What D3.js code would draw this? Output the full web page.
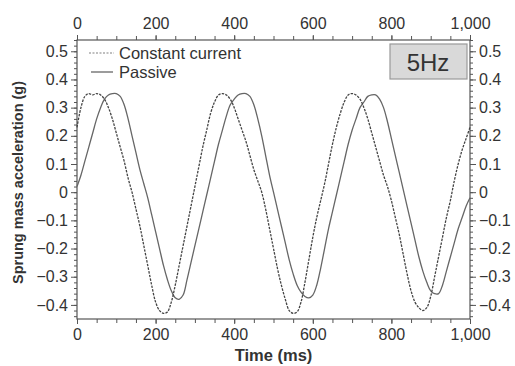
<!DOCTYPE html>
<html>
<head>
<meta charset="utf-8">
<script src="https://cdn.jsdelivr.net/npm/d3@7"></script>
<style>
  body { margin: 0; background: #fff; }
  text { font-family: "Liberation Sans", Arial, sans-serif; fill: #333; }
</style>
</head>
<body>
<script>
// time samples (ms)
var timeMs = d3.range(0, 1001, 10);

var constantCurrent = [
  0.23, 0.30, 0.34, 0.35, 0.345, 0.35, 0.345, 0.33, 0.30, 0.26,
  0.21, 0.16, 0.11, 0.05, 0.0, -0.06, -0.12, -0.19, -0.26, -0.33,
  -0.39, -0.42, -0.43, -0.425, -0.39, -0.33, -0.26, -0.19, -0.12, -0.05,
  0.02, 0.09, 0.16, 0.22, 0.28, 0.32, 0.345, 0.35, 0.345, 0.33,
  0.30, 0.26, 0.22, 0.18, 0.13, 0.08, 0.04, 0.0, -0.06, -0.13,
  -0.20, -0.27, -0.33, -0.38, -0.42, -0.43, -0.425, -0.39, -0.32, -0.24,
  -0.16, -0.09, -0.03, 0.03, 0.10, 0.17, 0.23, 0.28, 0.32, 0.345,
  0.35, 0.345, 0.33, 0.30, 0.26, 0.21, 0.16, 0.11, 0.06, 0.02,
  -0.03, -0.09, -0.15, -0.22, -0.29, -0.35, -0.39, -0.41, -0.42, -0.41,
  -0.37, -0.30, -0.23, -0.16, -0.09, -0.03, 0.04, 0.10, 0.15, 0.19,
  0.23
];

var passive = [
  0.02, 0.06, 0.11, 0.16, 0.21, 0.26, 0.30, 0.33, 0.345, 0.35,
  0.35, 0.34, 0.31, 0.26, 0.20, 0.14, 0.08, 0.03, -0.02, -0.08,
  -0.14, -0.20, -0.26, -0.31, -0.35, -0.375, -0.38, -0.365, -0.31, -0.25,
  -0.19, -0.13, -0.07, -0.01, 0.05, 0.11, 0.17, 0.22, 0.27, 0.31,
  0.33, 0.345, 0.35, 0.35, 0.34, 0.31, 0.26, 0.20, 0.13, 0.06,
  0.0, -0.06, -0.12, -0.18, -0.24, -0.29, -0.33, -0.355, -0.37, -0.375,
  -0.365, -0.33, -0.27, -0.20, -0.13, -0.07, -0.01, 0.05, 0.11, 0.17,
  0.22, 0.26, 0.30, 0.32, 0.34, 0.345, 0.345, 0.33, 0.30, 0.25,
  0.19, 0.13, 0.07, 0.01, -0.05, -0.11, -0.17, -0.23, -0.28, -0.32,
  -0.35, -0.36, -0.36, -0.33, -0.28, -0.23, -0.18, -0.13, -0.09, -0.05,
  -0.02
];

var xTickValues = [0, 200, 400, 600, 800, 1000];
var yTickValues = [-0.4, -0.3, -0.2, -0.1, 0, 0.1, 0.2, 0.3, 0.4, 0.5];
var seriesNames = ["Constant current", "Passive"];
var panelLabel = "5Hz";

var width = 515, height = 366;
var margin = {top: 40, right: 45, bottom: 47, left: 77};

var svg = d3.select("body").append("svg")
    .attr("width", width)
    .attr("height", height);

var xScale = d3.scaleLinear()
    .domain([0, 1000])
    .range([margin.left, width - margin.right]);
var yScale = d3.scaleLinear()
    .domain([-0.45, 0.54])
    .range([height - margin.bottom, margin.top]);

var yFormat = function (d) { return d === 0 ? "0" : d3.format(".1f")(d); };
var xMinor = d3.range(0, 1001, 50);
var yMinor = d3.range(-0.44, 0.541, 0.02);

function styleAxis(g) {
    g.selectAll("path").remove();
    g.selectAll("line").attr("stroke", "#555");
    g.selectAll("text").style("font-size", "16px").attr("fill", "#333");
}

// minor ticks
svg.append("g").attr("transform", "translate(0," + yScale.range()[0] + ")")
    .call(d3.axisBottom(xScale).tickValues(xMinor).tickSize(4).tickFormat(""))
    .call(styleAxis);
svg.append("g").attr("transform", "translate(0," + margin.top + ")")
    .call(d3.axisTop(xScale).tickValues(xMinor).tickSize(4).tickFormat(""))
    .call(styleAxis);
svg.append("g").attr("transform", "translate(" + margin.left + ",0)")
    .call(d3.axisLeft(yScale).tickValues(yMinor).tickSize(3).tickFormat(""))
    .call(styleAxis);
svg.append("g").attr("transform", "translate(" + (width - margin.right) + ",0)")
    .call(d3.axisRight(yScale).tickValues(yMinor).tickSize(3).tickFormat(""))
    .call(styleAxis);

// major ticks
svg.append("g").attr("transform", "translate(0," + yScale.range()[0] + ")")
    .call(d3.axisBottom(xScale).tickValues(xTickValues).tickSize(5).tickPadding(5).tickFormat(d3.format(",")))
    .call(styleAxis);
svg.append("g").attr("transform", "translate(0," + margin.top + ")")
    .call(d3.axisTop(xScale).tickValues(xTickValues).tickSize(5).tickPadding(6).tickFormat(d3.format(",")))
    .call(styleAxis);
svg.append("g").attr("transform", "translate(" + margin.left + ",0)")
    .call(d3.axisLeft(yScale).tickValues(yTickValues).tickSize(6).tickPadding(3).tickFormat(yFormat))
    .call(styleAxis);
svg.append("g").attr("transform", "translate(" + (width - margin.right) + ",0)")
    .call(d3.axisRight(yScale).tickValues(yTickValues).tickSize(6).tickPadding(3).tickFormat(yFormat))
    .call(styleAxis);

// frame
svg.append("rect")
    .attr("x", margin.left)
    .attr("y", margin.top)
    .attr("width", width - margin.left - margin.right)
    .attr("height", height - margin.top - margin.bottom)
    .attr("fill", "none")
    .attr("stroke", "#555")
    .attr("stroke-width", 1.2);

// lines
var line = d3.line()
    .x(function (d) { return xScale(d[0]); })
    .y(function (d) { return yScale(d[1]); })
    .curve(d3.curveCatmullRom);

svg.append("path")
    .datum(d3.zip(timeMs, passive))
    .attr("d", line)
    .attr("fill", "none")
    .attr("stroke", "#666")
    .attr("stroke-width", 1.3);

svg.append("path")
    .datum(d3.zip(timeMs, constantCurrent))
    .attr("d", line)
    .attr("fill", "none")
    .attr("stroke", "#444")
    .attr("stroke-width", 1.3)
    .attr("stroke-dasharray", "2.5,1.2");

// legend
var legend = svg.append("g");
legend.append("line")
    .attr("x1", 89).attr("x2", 114).attr("y1", 53).attr("y2", 53)
    .attr("stroke", "#aaa").attr("stroke-width", 1.3).attr("stroke-dasharray", "2,1.5");
legend.append("line")
    .attr("x1", 91).attr("x2", 113).attr("y1", 72).attr("y2", 72)
    .attr("stroke", "#666").attr("stroke-width", 1.3);
legend.selectAll("text.leg")
    .data(seriesNames)
    .enter().append("text")
    .attr("class", "leg")
    .attr("x", 119)
    .attr("y", function (d, i) { return 58.5 + i * 19; })
    .style("font-size", "16.5px")
    .text(function (d) { return d; });

// panel label box
svg.append("rect")
    .attr("x", 390).attr("y", 44).attr("width", 77).attr("height", 35)
    .attr("fill", "#d9d9d9").attr("stroke", "#999").attr("stroke-width", 1.2);
svg.append("text")
    .attr("x", 428).attr("y", 70.5)
    .attr("text-anchor", "middle")
    .style("font-size", "24px")
    .attr("fill", "#222")
    .text(panelLabel);

// axis titles
svg.append("text")
    .attr("x", (margin.left + width - margin.right) / 2)
    .attr("y", 361)
    .attr("text-anchor", "middle")
    .style("font-size", "16.5px")
    .style("font-weight", "bold")
    .text("Time (ms)");

svg.append("text")
    .attr("transform", "translate(23," + ((margin.top + height - margin.bottom) / 2 + 3) + ") rotate(-90)")
    .attr("text-anchor", "middle")
    .style("font-size", "14.5px")
    .style("font-weight", "bold")
    .text("Sprung mass acceleration (g)");
</script>
</body>
</html>
